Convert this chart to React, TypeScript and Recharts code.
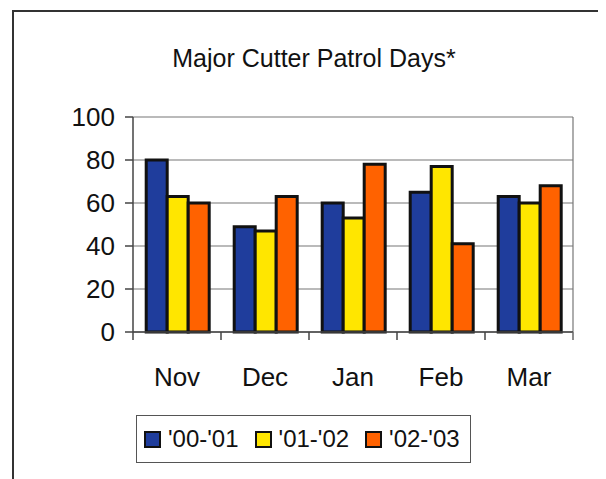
import { BarChart, Bar, XAxis, YAxis, CartesianGrid } from "recharts";

const months = ["Nov", "Dec", "Jan", "Feb", "Mar"];
const season0001 = [80, 49, 60, 65, 63];
const season0102 = [63, 47, 53, 77, 60];
const season0203 = [60, 63, 78, 41, 68];
const yTicks = [0, 20, 40, 60, 80, 100];

const series = [
  { key: "s0001", label: "'00-'01", color: "#1f3d9c", values: season0001 },
  { key: "s0102", label: "'01-'02", color: "#ffe600", values: season0102 },
  { key: "s0203", label: "'02-'03", color: "#ff6200", values: season0203 },
];

const data = months.map((m, i) => {
  const row: Record<string, string | number> = { name: m };
  series.forEach((s) => (row[s.key] = s.values[i]));
  return row;
});

const FONT = "'Liberation Sans', Arial, sans-serif";
const LABEL_GAP = 36;

const MonthTick = (props: any) => {
  const { x, y, payload, index } = props;
  const half = payload && payload.offset ? payload.offset : 44;
  const axisY = y - LABEL_GAP;
  return (
    <g>
      <line x1={x - half} x2={x - half} y1={axisY} y2={axisY + 8} stroke="#444" strokeWidth={1.5} />
      {index === months.length - 1 && (
        <line x1={x + half} x2={x + half} y1={axisY} y2={axisY + 8} stroke="#666" strokeWidth={1.5} />
      )}
      <text x={x} y={y} dy="0.71em" textAnchor="middle" fill="#111" fontSize={26} fontFamily={FONT}>
        {payload.value}
      </text>
    </g>
  );
};

export default function App() {
  return (
    <div style={{ position: "relative", width: 598, height: 471, fontFamily: FONT, background: "#fff" }}>
      <div
        style={{
          position: "absolute",
          left: 4,
          top: 2,
          width: 640,
          height: 500,
          borderTop: "2px solid #333",
          borderLeft: "2px solid #333",
        }}
      />
      <div
        style={{
          position: "absolute",
          left: 0,
          top: 38,
          width: 612,
          textAlign: "center",
          fontSize: 25,
          lineHeight: "25px",
          color: "#111",
        }}
      >
        Major Cutter Patrol Days*
      </div>
      <div style={{ position: "absolute", left: 0, top: 0 }}>
        <BarChart
          width={598}
          height={471}
          data={data}
          margin={{ top: 109, right: 33, left: 65, bottom: 87 }}
          barCategoryGap="15%"
          barGap={0}
        >
          <CartesianGrid
            stroke="#777"
            strokeWidth={1.2}
            vertical={true}
            verticalCoordinatesGenerator={({ offset }: any) => [offset.left + offset.width]}
          />
          <XAxis
            dataKey="name"
            height={60}
            axisLine={{ stroke: "#444", strokeWidth: 1.5 }}
            tickLine={false}
            tickSize={0}
            tickMargin={LABEL_GAP}
            tick={<MonthTick />}
            interval={0}
          />
          <YAxis
            width={60}
            domain={[0, 100]}
            ticks={yTicks}
            axisLine={{ stroke: "#444", strokeWidth: 1.5 }}
            tickLine={{ stroke: "#444", strokeWidth: 1.5 }}
            tickSize={8}
            tickMargin={10}
            tick={{ fill: "#111", fontSize: 26, fontFamily: FONT }}
          />
          {series.map((s) => (
            <Bar
              key={s.key}
              dataKey={s.key}
              name={s.label}
              fill={s.color}
              stroke="#111"
              strokeWidth={3}
              isAnimationActive={false}
            />
          ))}
        </BarChart>
      </div>
      <div
        style={{
          position: "absolute",
          left: 128,
          top: 407,
          width: 335,
          height: 48,
          boxSizing: "border-box",
          border: "1.5px solid #555",
          display: "flex",
          alignItems: "center",
          paddingLeft: 7,
          gap: 16,
        }}
      >
        {series.map((s) => (
          <div key={s.key} style={{ display: "flex", alignItems: "center", gap: 7 }}>
            <div
              style={{
                width: 17,
                height: 17,
                boxSizing: "border-box",
                background: s.color,
                border: "2.5px solid #111",
              }}
            />
            <span style={{ fontSize: 24, lineHeight: "24px", color: "#111" }}>{s.label}</span>
          </div>
        ))}
      </div>
    </div>
  );
}
